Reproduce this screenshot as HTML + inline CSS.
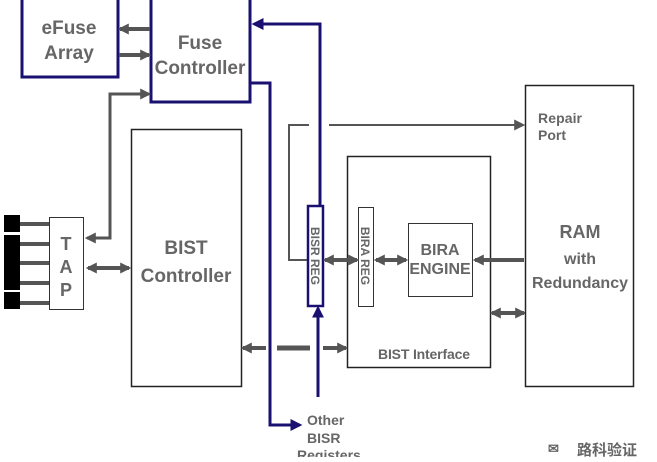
<!DOCTYPE html>
<html><head><style>
body{margin:0;background:#fff;width:657px;height:457px;overflow:hidden}
svg text{font-family:"Liberation Sans",sans-serif;fill:#666;font-weight:bold}
</style></head><body>
<svg width="657" height="457" viewBox="0 0 657 457" xmlns="http://www.w3.org/2000/svg">
<defs>
<marker id="g" viewBox="0 0 10 10" refX="8" refY="5" markerUnits="userSpaceOnUse" markerWidth="11" markerHeight="11" orient="auto-start-reverse"><path d="M0,0L10,5L0,10z" fill="#555"/></marker>
<marker id="n" viewBox="0 0 10 10" refX="8" refY="5" markerUnits="userSpaceOnUse" markerWidth="12" markerHeight="12" orient="auto-start-reverse"><path d="M0,0L10,5L0,10z" fill="#1a1070"/></marker>
</defs>
<rect x="22" y="-2" width="96" height="79" fill="none" stroke="#1a1070" stroke-width="3"/>
<rect x="151" y="-2" width="99" height="104" fill="none" stroke="#1a1070" stroke-width="3"/>
<text x="69" y="34" font-size="19" text-anchor="middle">eFuse</text>
<text x="69" y="59" font-size="19" text-anchor="middle">Array</text>
<text x="200" y="49" font-size="19" text-anchor="middle">Fuse</text>
<text x="200" y="74" font-size="19" text-anchor="middle">Controller</text>
<line x1="150" y1="29" x2="120" y2="29" stroke="#555" stroke-width="4" marker-end="url(#g)"/>
<line x1="119" y1="55" x2="149" y2="55" stroke="#555" stroke-width="4" marker-end="url(#g)"/>
<polyline points="87,238 110,238 110,94 149,94" fill="none" stroke="#555" stroke-width="3" marker-start="url(#g)" marker-end="url(#g)"/>
<rect x="131.5" y="129.5" width="110" height="257" fill="none" stroke="#222" stroke-width="1.5"/>
<text x="186" y="254" font-size="19" text-anchor="middle">BIST</text>
<text x="186" y="282" font-size="19" text-anchor="middle">Controller</text>
<rect x="49.5" y="217.5" width="34" height="92" fill="#fff" stroke="#333" stroke-width="1"/>
<text x="66" y="250" font-size="18" text-anchor="middle" font-weight="normal">T</text>
<text x="66" y="273" font-size="18" text-anchor="middle" font-weight="normal">A</text>
<text x="66" y="296" font-size="18" text-anchor="middle" font-weight="normal">P</text>
<rect x="4" y="215" width="16" height="17" fill="#000"/>
<rect x="4" y="235" width="16" height="55" fill="#000"/>
<rect x="4" y="292" width="16" height="17" fill="#000"/>
<g stroke="#555" stroke-width="4">
<line x1="20" y1="224" x2="49" y2="224"/><line x1="20" y1="244" x2="49" y2="244"/><line x1="20" y1="263" x2="49" y2="263"/><line x1="20" y1="283" x2="49" y2="283"/><line x1="20" y1="303" x2="49" y2="303"/>
</g>
<line x1="88" y1="268" x2="129" y2="268" stroke="#555" stroke-width="4" marker-start="url(#g)" marker-end="url(#g)"/>
<polyline points="308,260 289,260 289,125 309,125" fill="none" stroke="#555" stroke-width="2"/>
<line x1="329" y1="125" x2="523" y2="125" stroke="#555" stroke-width="2" marker-end="url(#g)"/>
<text x="538" y="123" font-size="14" font-weight="normal" textLength="44">Repair</text>
<text x="538" y="140" font-size="14" font-weight="normal">Port</text>
<polyline points="251,83 270,83 270,425 300,425" fill="none" stroke="#1a1070" stroke-width="3" marker-end="url(#n)"/>
<polyline points="320,205 320,24 254,24" fill="none" stroke="#1a1070" stroke-width="3" marker-end="url(#n)"/>
<line x1="318" y1="397" x2="318" y2="308" stroke="#1a1070" stroke-width="3" marker-end="url(#n)"/>
<rect x="347.5" y="156.5" width="143" height="211" fill="none" stroke="#222" stroke-width="1.5"/>
<text x="424" y="359" font-size="14" text-anchor="middle" font-weight="normal" fill="#555" textLength="92">BIST Interface</text>
<rect x="308" y="206" width="15" height="100" fill="#fff" stroke="#1a1070" stroke-width="2.5"/>
<text transform="translate(311,256) rotate(90)" font-size="12" text-anchor="middle" font-weight="normal" fill="#444">BISR REG</text>
<rect x="358.5" y="207.5" width="15" height="99" fill="#fff" stroke="#333" stroke-width="1"/>
<text transform="translate(361,256) rotate(90)" font-size="12" text-anchor="middle" font-weight="normal" fill="#444">BIRA REG</text>
<rect x="408.5" y="223.5" width="64" height="73" fill="#fff" stroke="#333" stroke-width="1"/>
<text x="440" y="255" font-size="16" text-anchor="middle" font-weight="normal">BIRA</text>
<text x="440" y="274" font-size="16" text-anchor="middle" font-weight="normal">ENGINE</text>
<line x1="325" y1="260" x2="357" y2="260" stroke="#555" stroke-width="4" marker-start="url(#g)" marker-end="url(#g)"/>
<line x1="376" y1="260" x2="406" y2="260" stroke="#555" stroke-width="4" marker-start="url(#g)" marker-end="url(#g)"/>
<line x1="524" y1="260" x2="475" y2="260" stroke="#555" stroke-width="4" marker-end="url(#g)"/>
<line x1="492" y1="313" x2="524" y2="313" stroke="#555" stroke-width="4" marker-start="url(#g)" marker-end="url(#g)"/>
<rect x="525.5" y="85.5" width="108" height="301" fill="none" stroke="#222" stroke-width="1.5"/>
<text x="580" y="238" font-size="18" text-anchor="middle">RAM</text>
<text x="580" y="264" font-size="16" text-anchor="middle">with</text>
<text x="580" y="288" font-size="16" text-anchor="middle">Redundancy</text>
<line x1="243" y1="348" x2="266" y2="348" stroke="#555" stroke-width="4" marker-start="url(#g)"/>
<line x1="277" y1="348" x2="310" y2="348" stroke="#555" stroke-width="5"/>
<line x1="323" y1="348" x2="346" y2="348" stroke="#555" stroke-width="4" marker-end="url(#g)"/>
<text x="307" y="425" font-size="14" font-weight="normal">Other</text>
<text x="307" y="443" font-size="14" font-weight="normal">BISR</text>
<text x="297" y="460" font-size="14" font-weight="normal">Registers</text>
<text x="577" y="455" font-size="15" font-weight="normal" fill="#999" style="font-family:'Liberation Sans','Noto Sans CJK SC',sans-serif">路科验证</text>
<text x="548" y="453" font-size="13" font-weight="normal" fill="#aaa">✉</text>
</svg>
</body></html>
